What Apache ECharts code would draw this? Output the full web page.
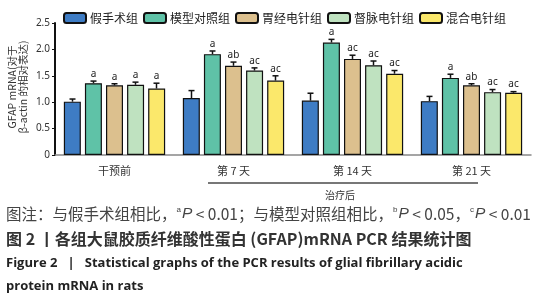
<!DOCTYPE html>
<html>
<head>
<meta charset="utf-8">
<script src="https://cdn.jsdelivr.net/npm/echarts@6/dist/echarts.min.js"></script>
<style>
  html, body { margin: 0; padding: 0; background: #fff; }
  #chart { width: 541px; height: 300px; }
</style>
</head>
<body>
<div id="chart"></div>
<script>
// 各时间点
var categories = ['干预前', '第 7 天', '第 14 天', '第 21 天'];
var groupNames = ['假手术组', '模型对照组', '胃经电针组', '督脉电针组', '混合电针组'];
var groupColors = ['#3e7cc4', '#5fc2a7', '#dcc08e', '#bfe2c0', '#fbe86b'];
// 相对表达均值
var shamVals = [1.01, 1.08, 1.03, 1.02];
var modelVals = [1.36, 1.91, 2.13, 1.46];
var stomachVals = [1.32, 1.69, 1.82, 1.32];
var duVals = [1.33, 1.60, 1.70, 1.19];
var mixedVals = [1.26, 1.41, 1.54, 1.18];
// 误差（上限）
var shamErr = [0.05, 0.14, 0.14, 0.09];
var modelErr = [0.04, 0.06, 0.06, 0.07];
var stomachErr = [0.03, 0.07, 0.07, 0.03];
var duErr = [0.05, 0.05, 0.08, 0.05];
var mixedErr = [0.10, 0.09, 0.06, 0.02];
// 显著性标记
var shamMark = ['', '', '', ''];
var modelMark = ['a', 'a', 'a', 'a'];
var stomachMark = ['a', 'ab', 'ac', 'ab'];
var duMark = ['a', 'ac', 'ac', 'ac'];
var mixedMark = ['a', 'ac', 'ac', 'ac'];
var yTicks = [0, 0.5, 1.0, 1.5, 2.0, 2.5];

var allVals = [shamVals, modelVals, stomachVals, duVals, mixedVals];
var allErr = [shamErr, modelErr, stomachErr, duErr, mixedErr];
var allMark = [shamMark, modelMark, stomachMark, duMark, mixedMark];

var BAR_W = 17, BAR_STEP = 21;

var myChart = echarts.init(document.getElementById('chart'));

var series = [];
groupNames.forEach(function (name, i) {
  series.push({
    name: name,
    type: 'bar',
    barWidth: BAR_W,
    barGap: '24%',
    itemStyle: { color: groupColors[i], borderColor: '#111', borderWidth: 1.2 },
    data: allVals[i],
    z: 2
  });
});

// 误差线 + 标记
var errData = [];
var errMarks = [];
for (var g = 0; g < allVals.length; g++) {
  for (var c = 0; c < categories.length; c++) {
    errData.push([c, g, allVals[g][c], allVals[g][c] + allErr[g][c]]);
    errMarks.push(allMark[g][c]);
  }
}
series.push({
  type: 'custom',
  name: 'err',
  encode: { x: 0, y: [2, 3] },
  data: errData,
  z: 5,
  renderItem: function (params, api) {
    var p = api.coord([api.value(0), api.value(2)]);
    var e = api.coord([api.value(0), api.value(3)]);
    var x = p[0] + (api.value(1) - 2) * BAR_STEP;
    var st = { stroke: '#111', lineWidth: 1.5 };
    return {
      type: 'group',
      children: [
        { type: 'line', shape: { x1: x, y1: p[1], x2: x, y2: e[1] }, style: st },
        { type: 'line', shape: { x1: x - 3, y1: e[1], x2: x + 3, y2: e[1] }, style: st },
        { type: 'text', x: x, y: e[1] - 2, style: {
          text: errMarks[params.dataIndex], textAlign: 'center', textVerticalAlign: 'bottom',
          fontSize: 10, fontFamily: 'Noto Sans', fill: '#222' } }
      ]
    };
  }
});

var option = {
  animation: false,
  textStyle: { fontFamily: 'Noto Sans CJK SC' },
  legend: {
    data: groupNames,
    left: 58,
    top: 7,
    width: 483,
    itemWidth: 22,
    itemHeight: 10,
    itemGap: 5,
    textStyle: { fontSize: 12, color: '#222', fontFamily: 'Noto Sans CJK SC', padding: [0, 0, 0, -1] }
  },
  grid: { left: 55, right: 10, top: 23, bottom: 145 },
  xAxis: {
    type: 'category',
    data: categories,
    axisLine: { lineStyle: { color: '#888', width: 1.5 } },
    axisTick: { alignWithLabel: true, length: 5, lineStyle: { color: '#111', width: 2.5 } },
    axisLabel: { fontSize: 11, color: '#333', margin: 10, fontFamily: 'Noto Sans CJK SC' }
  },
  yAxis: {
    type: 'value',
    min: 0, max: 2.5, interval: 0.5,
    splitLine: { show: false },
    axisLine: { show: true, lineStyle: { color: '#111', width: 2 } },
    axisTick: { show: true, length: 3, lineStyle: { color: '#111' } },
    axisLabel: {
      fontSize: 10, color: '#333', margin: 5, fontFamily: 'Noto Sans',
      formatter: function (v) { return yTicks.indexOf(v) === 0 ? '0' : v.toFixed(1); }
    }
  },
  series: series,
  graphic: [
    { type: 'text', x: 18, y: 87, rotation: Math.PI / 2, style: {
      text: 'GFAP mRNA(对于\nβ-actin 的相对表达)', textAlign: 'center', textVerticalAlign: 'middle',
      fontSize: 10.5, lineHeight: 11, fill: '#333', fontFamily: 'Noto Sans CJK SC' } },
    { type: 'line', shape: { x1: 208, y1: 183, x2: 478, y2: 183 }, style: { stroke: '#777', lineWidth: 2 } },
    { type: 'text', x: 340, y: 195, style: { text: '治疗后', textAlign: 'center', textVerticalAlign: 'middle',
      fontSize: 10, fill: '#333', fontFamily: 'Noto Sans CJK SC' } },
    { type: 'text', x: 6, y: 214, style: {
      text: '图注：与假手术组相比，{s|a}{i|P} < 0.01；与模型对照组相比，{s|b}{i|P} < 0.05，{s|c}{i|P} < 0.01',
      textVerticalAlign: 'middle', fontSize: 15.5, fill: '#444', fontFamily: 'Noto Sans CJK SC',
      rich: {
        s: { fontSize: 8, verticalAlign: 'top', fill: '#444', padding: [0, 1, 7, 0] },
        i: { fontStyle: 'italic', fontSize: 15.5, fill: '#444' }
      } } },
    { type: 'text', x: 6, y: 239, style: {
      text: '图 2 丨各组大鼠胶质纤维酸性蛋白 (GFAP)mRNA PCR 结果统计图',
      textVerticalAlign: 'middle', fontSize: 16, fontWeight: 'bold', fill: '#333', fontFamily: 'Noto Sans CJK SC' } },
    { type: 'text', x: 6, y: 263, style: {
      text: 'Figure 2   |   Statistical graphs of the PCR results of glial fibrillary acidic',
      textVerticalAlign: 'middle', fontSize: 13, fontWeight: 'bold', fill: '#222', fontFamily: 'Open Sans' } },
    { type: 'text', x: 6, y: 286, style: {
      text: 'protein mRNA in rats',
      textVerticalAlign: 'middle', fontSize: 13, fontWeight: 'bold', fill: '#222', fontFamily: 'Open Sans' } }
  ]
};
myChart.setOption(option);
</script>
</body>
</html>
